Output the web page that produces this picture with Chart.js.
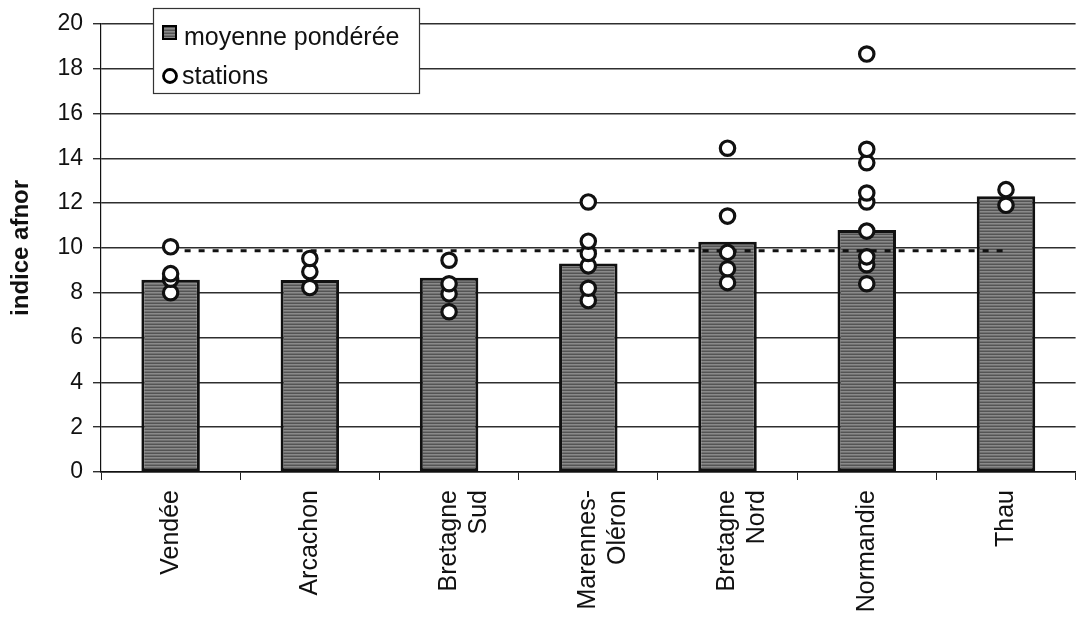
<!DOCTYPE html>
<html>
<head>
<meta charset="utf-8">
<script src="https://cdn.jsdelivr.net/npm/chart.js@4/dist/chart.umd.min.js"></script>
<style>
    html, body { margin: 0; padding: 0; background: #fff; }
    #wrap { width: 1086px; height: 621px; position: relative; }
</style>
</head>
<body>
<div id="wrap"><canvas id="chart"></canvas></div>
<script>
const categories = ['Vendée', 'Arcachon', ['Bretagne', 'Sud'], ['Marennes-', 'Oléron'], ['Bretagne', 'Nord'], 'Normandie', 'Thau'];
const meanValues = [8.58, 8.57, 8.67, 9.3, 10.27, 10.8, 12.3];
const stationValues = [
    [10.05, 8.85, 8.6, 8.0],
    [9.53, 8.94, 8.23],
    [9.45, 8.4, 7.95, 7.15],
    [12.05, 10.3, 9.75, 9.2, 8.2, 7.65],
    [14.45, 11.42, 9.8, 9.07, 8.45],
    [18.65, 14.4, 13.8, 12.45, 12.05, 10.75, 9.6, 9.25, 8.4],
    [12.6, 11.9]
];
const referenceLevel = 9.87;
const yTicks = [0, 2, 4, 6, 8, 10, 12, 14, 16, 18, 20];

// motif hachuré des barres (gris avec lignes horizontales)
function makeBarPattern() {
    const c = document.createElement('canvas');
    c.width = 4; c.height = 3;
    const g = c.getContext('2d');
    g.fillStyle = '#8a8a8a'; g.fillRect(0, 0, 4, 3);
    g.fillStyle = '#545454'; g.fillRect(0, 0, 4, 1);
    g.fillStyle = '#717171'; g.fillRect(0, 2, 4, 1);
    return g.createPattern(c, 'repeat');
}
const barPattern = makeBarPattern();

// un jeu de points par rang de station (null quand la catégorie n'en a pas)
const maxStations = Math.max(...stationValues.map(s => s.length));
const stationDatasets = [];
for (let k = 0; k < maxStations; k++) {
    stationDatasets.push({
        type: 'line',
        label: 'stations',
        data: stationValues.map(s => (k < s.length ? s[k] : null)),
        showLine: false,
        pointRadius: 7.2,
        pointBorderWidth: 3.2,
        pointBorderColor: '#111',
        pointBackgroundColor: '#fff',
        order: 1
    });
}

const legendBox = {
    id: 'legendBox',
    afterDatasetsDraw(chart) {
        const { ctx } = chart;
        const x0 = 153, y0 = 8, w = 266, h = 85;
        ctx.save();
        ctx.fillStyle = '#ffffff';
        ctx.fillRect(x0, y0, w, h);
        ctx.strokeStyle = '#333';
        ctx.lineWidth = 1.2;
        ctx.strokeRect(x0 + 0.5, y0 + 0.5, w, h);

        ctx.font = '25px "Liberation Sans", Arial, sans-serif';
        ctx.textBaseline = 'middle';

        // entrée barres
        ctx.fillStyle = barPattern;
        ctx.fillRect(163, 26, 13, 13);
        ctx.strokeStyle = '#000';
        ctx.lineWidth = 2;
        ctx.strokeRect(163, 26, 13, 13);
        ctx.fillStyle = '#111';
        ctx.fillText(chart.data.datasets[0].label, 184, 38);

        // entrée stations
        ctx.beginPath();
        ctx.arc(170, 76, 6.5, 0, Math.PI * 2);
        ctx.fillStyle = '#fff';
        ctx.fill();
        ctx.lineWidth = 2.8;
        ctx.strokeStyle = '#000';
        ctx.stroke();
        ctx.fillStyle = '#111';
        ctx.fillText(chart.data.datasets[2].label, 182, 77);
        ctx.restore();
    }
};

new Chart(document.getElementById('chart'), {
    type: 'bar',
    data: {
        labels: categories,
        datasets: [
            {
                label: 'moyenne pondérée',
                data: meanValues,
                backgroundColor: barPattern,
                borderColor: '#111',
                borderWidth: 3,
                borderSkipped: false,
                categoryPercentage: 1,
                barPercentage: 0.42,
                order: 3
            },
            {
                type: 'line',
                label: 'référence',
                data: categories.map(() => referenceLevel),
                borderColor: '#111',
                borderWidth: 3,
                borderDash: [6, 8],
                pointRadius: 0,
                fill: false,
                order: 2
            },
            ...stationDatasets
        ]
    },
    options: {
        responsive: true,
        maintainAspectRatio: false,
        animation: false,
        layout: { padding: { top: 20, right: 0, left: 0, bottom: 0 } },
        plugins: {
            legend: { display: false },
            tooltip: { enabled: false }
        },
        scales: {
            x: {
                grid: {
                    offset: true,
                    drawOnChartArea: false,
                    drawTicks: true,
                    tickLength: 8,
                    color: '#222',
                    lineWidth: 1
                },
                border: { color: '#111', width: 1.5 },
                ticks: {
                    minRotation: 90,
                    maxRotation: 90,
                    autoSkip: false,
                    padding: 10,
                    color: '#111',
                    font: { family: '"Liberation Sans", Arial, sans-serif', size: 25 }
                },
                afterFit(scale) { scale.height = 149; }
            },
            y: {
                min: 0,
                max: 20,
                afterBuildTicks(scale) { scale.ticks = yTicks.map(v => ({ value: v })); },
                grid: {
                    color: '#2e2e2e',
                    lineWidth: 1.4,
                    tickLength: 8
                },
                border: { color: '#111', width: 1.2 },
                ticks: {
                    padding: 10,
                    color: '#111',
                    font: { family: '"Liberation Sans", Arial, sans-serif', size: 23 }
                },
                title: {
                    display: true,
                    text: 'indice afnor',
                    color: '#111',
                    padding: { top: 7, bottom: 0 },
                    font: { family: '"Liberation Sans", Arial, sans-serif', size: 24, weight: 'bold' }
                },
                afterFit(scale) { scale.width = 101; }
            }
        }
    },
    plugins: [legendBox]
});
</script>
</body>
</html>
